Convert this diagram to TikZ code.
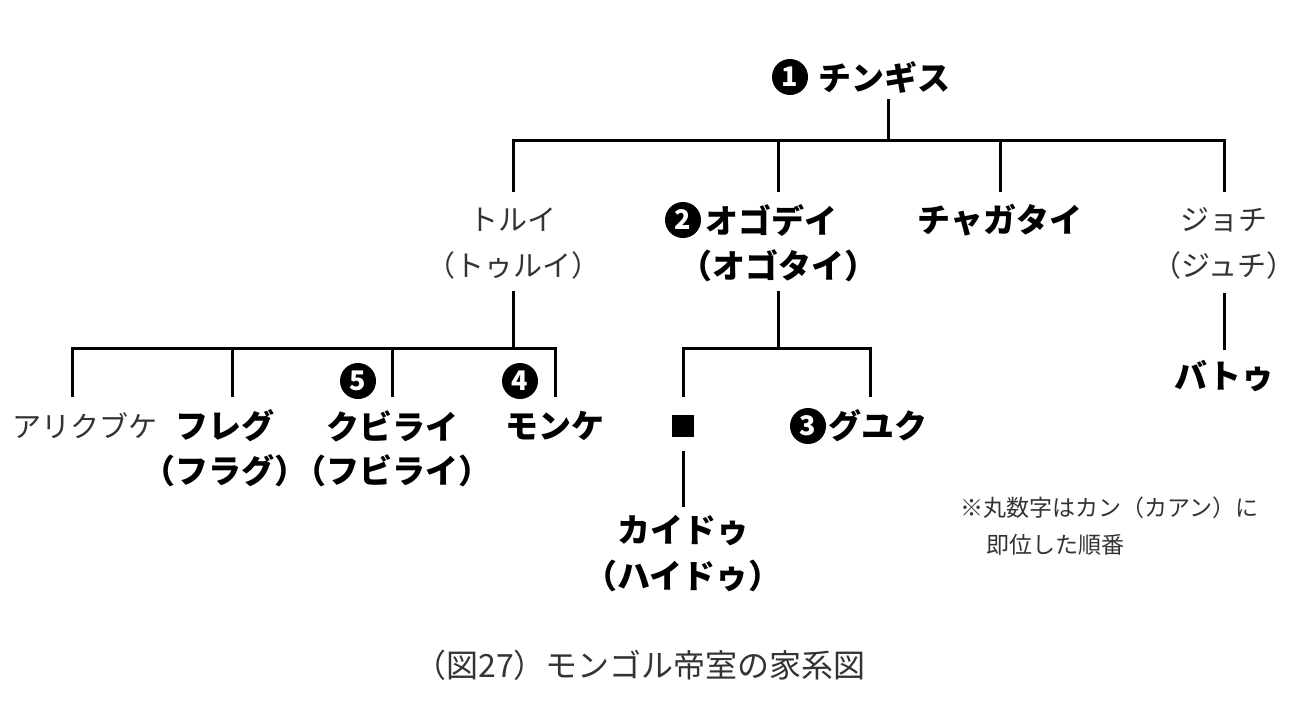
\documentclass[tikz,border=0pt]{standalone}
\usepackage{fontspec}
\setmainfont{Noto Sans CJK JP}
\begin{document}
\begin{tikzpicture}[x=1pt,y=-1pt,
  ln/.style={line width=3pt,line cap=rect},
  bt/.style={font=\fontsize{33}{35}\selectfont\bfseries,inner sep=0pt,text=black},
  nt/.style={font=\fontsize{29}{32}\selectfont,inner sep=0pt,text=black!80},
  num/.style={circle,fill=black,text=white,inner sep=0pt,minimum size=36pt,font=\fontsize{27}{27}\selectfont\bfseries}]
\useasboundingbox (0,0) rectangle (1300,707);
% nodes
\node[num] (c1) at (790,77) {1};
\node[bt,anchor=west] (chingis) at (818,77) {チンギス};
\coordinate (top) at (888,100);
\coordinate (h1) at (888,140);
\node[nt] (tolui) at (513,220) {トルイ};
\node[nt] (tolui2) at (513,265) {（トゥルイ）};
\node[num] (c2) at (683,220) {2};
\node[bt,anchor=west] (ogodei) at (705,220) {オゴデイ};
\node[bt] (ogodei2) at (778,266) {（オゴタイ）};
\node[bt] (chagatai) at (1000,220) {チャガタイ};
\node[nt] (jochi) at (1224,220) {ジョチ};
\node[nt] (jochi2) at (1224,265) {（ジュチ）};
\node[bt] (batu) at (1224,376) {バトゥ};
\node[nt] (arik) at (85,426) {アリクブケ};
\node[bt] (hulegu) at (225,426) {フレグ};
\node[bt] (hulegu2) at (225,471) {（フラグ）};
\node[num] (c5) at (358,381) {5};
\node[bt] (kubilai) at (392,426) {クビライ};
\node[bt] (kubilai2) at (392,471) {（フビライ）};
\node[num] (c4) at (520,381) {4};
\node[bt] (mongke) at (555,426) {モンケ};
\node[fill=black,minimum size=22pt,inner sep=0pt] (sq) at (683,426) {};
\node[num] (c3) at (808,426) {3};
\node[bt,anchor=west] (guyuk) at (828,426) {グユク};
\node[bt] (kaidu) at (683,531) {カイドゥ};
\node[bt] (kaidu2) at (683,576) {（ハイドゥ）};
\node[nt,anchor=west,font=\fontsize{23}{26}\selectfont] (note1) at (960,508) {※丸数字はカン（カアン）に};
\node[nt,anchor=west,font=\fontsize{23}{26}\selectfont] (note2) at (986,545) {即位した順番};
\node[nt,font=\fontsize{32}{34}\selectfont] (cap) at (640,665) {（図27）モンゴル帝室の家系図};
% lines
\draw[ln] (top) -- (h1);
\draw[ln] (513,190) -- (513,140) -- (1224,140) -- (1224,190);
\draw[ln] (778,140) -- (778,190);
\draw[ln] (1000,140) -- (1000,190);
\draw[ln] (513,292) -- (513,348);
\draw[ln] (72,395) -- (72,348) -- (555,348) -- (555,395);
\draw[ln] (232,348) -- (232,395);
\draw[ln] (392,348) -- (392,395);
\draw[ln] (778,292) -- (778,348);
\draw[ln] (683,395) -- (683,348) -- (870,348) -- (870,395);
\draw[ln] (683,452) -- (683,505);
\draw[ln] (1224,294) -- (1224,348);
\end{tikzpicture}
\end{document}
